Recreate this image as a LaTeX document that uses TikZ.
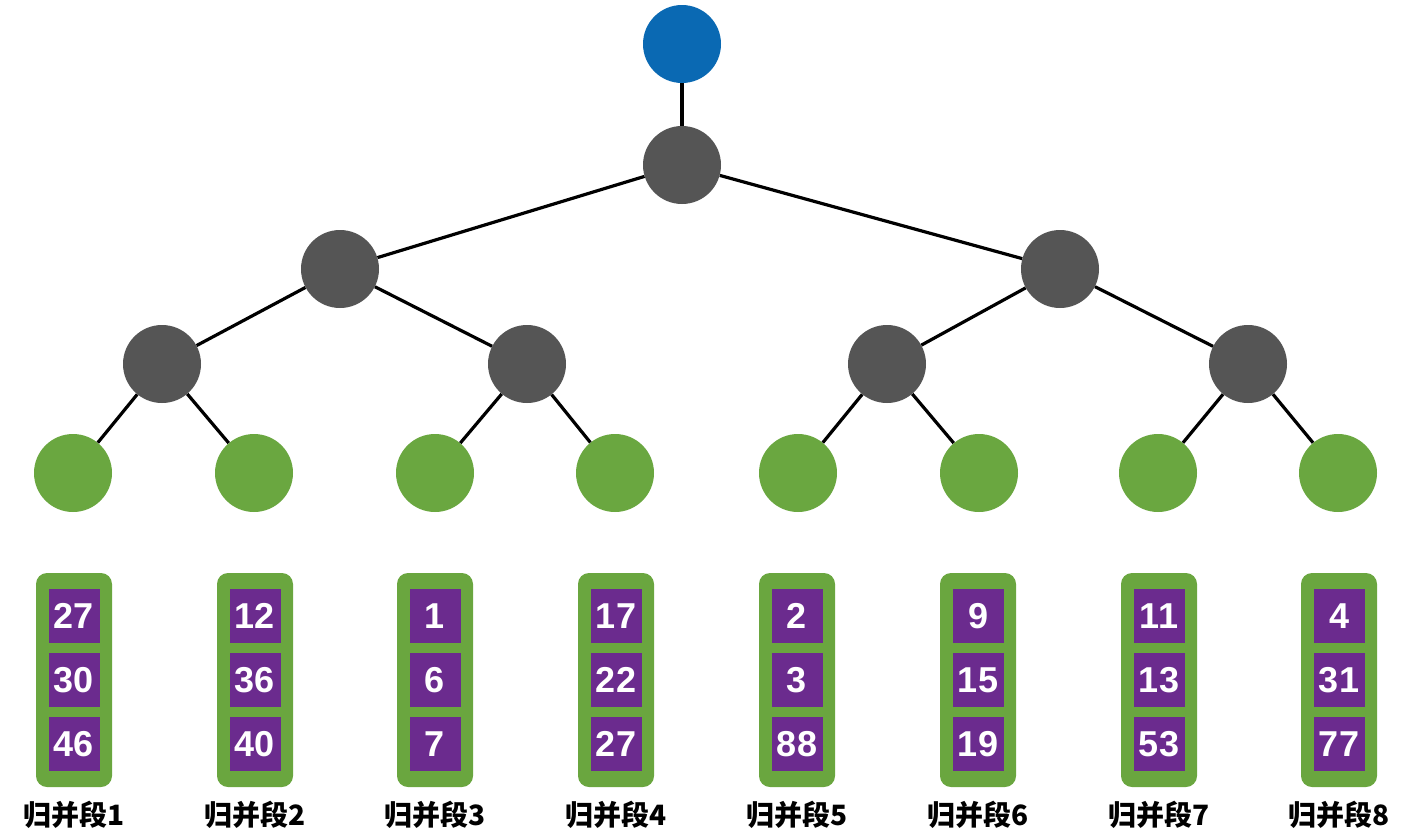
\documentclass[tikz,border=0pt]{standalone}
\usepackage{fontspec}
\setmainfont{Liberation Sans}
\newfontfamily\cjk{Noto Sans CJK SC}
\definecolor{rootblue}{HTML}{0A69B3}
\definecolor{innergray}{HTML}{555555}
\definecolor{leafgreen}{HTML}{6AA740}
\definecolor{boxgreen}{HTML}{6AA63F}
\definecolor{cellpurple}{HTML}{6B2B8E}
\tikzset{
  nd/.style={circle, minimum size=78pt, inner sep=0pt},
  rootnd/.style={nd, fill=rootblue},
  graynd/.style={nd, fill=innergray},
  leafnd/.style={nd, fill=leafgreen},
  edge/.style={line width=3.2pt, black},
  runbox/.style={rectangle, rounded corners=11pt, fill=boxgreen, minimum width=76pt, minimum height=214pt, inner sep=0pt},
  cell/.style={rectangle, fill=cellpurple, minimum width=51pt, minimum height=54pt, inner sep=0pt, text=white, font=\fontsize{36}{40}\selectfont\bfseries},
  runlabel/.style={font=\cjk\bfseries\fontsize{28}{32}\selectfont, text=black}
}
\begin{document}
\begin{tikzpicture}[x=1pt,y=-1pt]
\useasboundingbox (0,0) rectangle (1416,839);
% nodes
\node[rootnd] (r) at (682,44) {};
\node[graynd] (g0) at (682,165) {};
\node[graynd] (g1) at (340,269) {};
\node[graynd] (g2) at (1060,269) {};
\node[graynd] (h1) at (162,364) {};
\node[graynd] (h2) at (527,364) {};
\node[graynd] (h3) at (887,364) {};
\node[graynd] (h4) at (1248,364) {};
\foreach \i/\x in {1/73,2/254,3/435,4/615,5/798,6/979,7/1158,8/1338}{
  \node[leafnd] (l\i) at (\x,473) {};
}
% edges
\draw[edge] (r) -- (g0);
\draw[edge] (g0) -- (g1);
\draw[edge] (g0) -- (g2);
\draw[edge] (g1) -- (h1);
\draw[edge] (g1) -- (h2);
\draw[edge] (g2) -- (h3);
\draw[edge] (g2) -- (h4);
\draw[edge] (h1) -- (l1);
\draw[edge] (h1) -- (l2);
\draw[edge] (h2) -- (l3);
\draw[edge] (h2) -- (l4);
\draw[edge] (h3) -- (l5);
\draw[edge] (h3) -- (l6);
\draw[edge] (h4) -- (l7);
\draw[edge] (h4) -- (l8);
% runs
\foreach \i/\x/\a/\b/\c in {1/74/27/30/46,2/255/12/36/40,3/435/1/6/7,4/616/17/22/27,5/797/2/3/88,6/978/9/15/19,7/1159/11/13/53,8/1339/4/31/77}{
  \node[runbox] (b\i) at (\x,680) {};
  \node[cell] (c\i a) at (\x,616) {\a};
  \node[cell] (c\i b) at (\x,680) {\b};
  \node[cell] (c\i c) at (\x,744) {\c};
  \node[runlabel] (t\i) at (\x,815) {归并段\i};
}
\end{tikzpicture}
\end{document}
